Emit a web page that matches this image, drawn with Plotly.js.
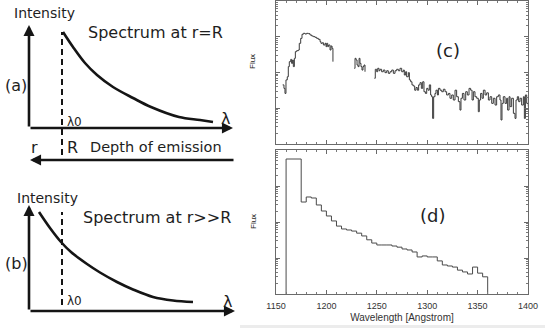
<!DOCTYPE html>
<html><head><meta charset="utf-8">
<script src="https://cdn.plot.ly/plotly-3.0.1.min.js"></script>
<style>html,body{margin:0;padding:0;background:#fff;}#chart{width:545px;height:328px;}</style>
</head><body><div id="chart"></div>
<script>
// ---- schematic panels (normalized wavelength / normalized intensity) ----
const lamA = [0.17,0.22,0.28,0.34,0.42,0.52,0.61,0.75,0.855,0.92];
const intA = [0.96,0.81,0.65,0.53,0.41,0.30,0.21,0.11,0.08,0.06];
const lamB = [0.05,0.105,0.16,0.21,0.29,0.355,0.44,0.52,0.62,0.72,0.82];
const intB = [0.99,0.83,0.69,0.59,0.47,0.385,0.29,0.215,0.14,0.105,0.09];
const lambda0 = 0.165;

// ---- (c) observed spectrum: wavelength [Angstrom], flux (arbitrary units) ----
const lamC = [1156.6,1157.9,1158.9,1159.9,1161.2,1162.2,1163.2,1164.6,1165.5,1166.5,
  1167.2,1168.2,1169.2,1170.5,1172.2,1173.1,1174.5,1175.8,1177.1,1178.8,
  1180.4,1182.1,1183.7,1185.4,1187.0,1188.7,1190.3,1192.0,1193.7,1194.6,
  1196.0,1197.0,1198.6,1199.6,1200.3,1201.3,1202.2,1203.6,1204.6,1205.6,1206.5,
  1216,
  1227.7,1228.4,1229.4,1230.4,1231.4,1232.4,1233.3,1234.3,1235.3,1236.3,1237.3,1238.3,
  1243,
  1247.6,1248.5,1249.9,1250.9,1252.2,1253.2,1254.8,1256.5,1258.1,1259.8,
  1261.4,1263.1,1264.8,1266.4,1268.1,1269.7,1271.4,1273.0,1274.7,1276.3,
  1277.3,1278.6,1279.6,1281.3,1282.3,1283.6,1284.9,1286.2,1287.6,1288.9,
  1290.2,1291.5,1292.9,1294.2,1295.5,1296.8,1298.2,1299.5,1300.8,1302.1,
  1303.4,1304.4,1305.4,1306.4,1307.7,1308.7,1310.1,1311.1,1312.7,1314.4,
  1316.0,1317.7,1319.3,1321.0,1322.6,1324.3,1325.9,1327.6,1329.2,1330.9,
  1332.5,1333.5,1334.9,1336.5,1338.2,1339.8,1341.5,1343.1,1344.5,1345.8,
  1347.4,1349.1,1350.7,1351.7,1353.0,1354.4,1355.7,1357.4,1359.0,1360.7,
  1362.3,1364.0,1365.6,1367.3,1368.9,1370.6,1372.2,1373.2,1374.2,1375.5,
  1377.2,1378.8,1379.8,1381.2,1382.2,1383.8,1385.5,1387.1,1388.1,1389.4,
  1390.7,1392.1,1393.7,1395.4,1396.4,1397.4,1398.7,1400.3];
const fluxC = [45,36,26,62,76,146,201,233,180,224,
  146,249,383,408,426,655,903,1170,1247,1194,
  1247,1220,1120,1050,1005,964,903,847,728,655,
  683,588,655,528,655,528,588,426,551,474,201,
  null,
  131,249,224,162,146,249,180,146,117,146,162,105,
  null,
  69,123,105,131,112,123,105,117,99,112,
  95,105,117,95,112,123,112,131,105,117,
  85,105,76,99,62,55,45,42,32,38,
  32,45,52,36,55,29,26,36,32,45,
  23.5,21,5.2,21,26,32,23.5,36,32,29,
  34,29,23.5,26,19,23.5,17,32,21,15.3,
  8.9,19,26,17,29,23.5,36,32,17,29,
  21,19,8.0,17,26,19,32,23.5,27,17,
  21,13.7,19,12.3,21,23.5,17,4.7,13.7,21,
  13.7,19,8.9,21,11.1,19,7.2,5.2,17,21,
  15.3,19,12.3,21,5.2,23.5,13.7,11.1];

// ---- (d) binned model spectrum: bin left edges [Angstrom], flux ----
const binD = [1160,1160,1175,1180,1185,1190,1195,1200,1205,1210,1215,1220,1225,1230,1235,1240,
  1245,1250,1255,1260,1265,1270,1275,1280,1285,1290,1295,1300,1305,1310,1315,1320,1325,
  1330,1335,1340,1345,1350,1355,1360];
const fluxD = [0.01,5623,359,495,464,297,202,147,107,77,64,60,56,49,41,32,
  26,23,23,23,21.5,20,17.8,16.7,14.7,10.7,11.4,10.7,10.7,8.3,6.4,6.0,5.6,
  4.6,4.1,3.6,5.6,3.8,3.0,0.01];

const xTicks = [1150,1200,1250,1300,1350,1400];

const ink = '#151515';
const fL = 'DejaVu Sans, sans-serif';
const fR = 'Liberation Sans, Arial, sans-serif';

const traces = [
  {x: lamA, y: intA, xaxis: 'x', yaxis: 'y', mode: 'lines', line: {color: ink, width: 2.6, shape: 'spline'}, hoverinfo: 'skip'},
  {x: lamB, y: intB, xaxis: 'x2', yaxis: 'y2', mode: 'lines', line: {color: ink, width: 2.6, shape: 'spline'}, hoverinfo: 'skip'},
  {x: lamC, y: fluxC, xaxis: 'x3', yaxis: 'y3', mode: 'lines', connectgaps: false, line: {color: '#3a3a3a', width: 1, shape: 'hv'}, hoverinfo: 'skip'},
  {x: binD, y: fluxD, xaxis: 'x4', yaxis: 'y4', mode: 'lines', line: {color: '#4a4a4a', width: 1, shape: 'hv'}, hoverinfo: 'skip'}
];

function arrow(xr, yr, x0, y0, x1, y1) {
  return {xref: xr, yref: yr, axref: xr, ayref: yr, x: x1, y: y1, ax: x0, ay: y0,
    text: '', showarrow: true, arrowhead: 2, arrowsize: 0.85, arrowwidth: 2.6, arrowcolor: ink, standoff: 0};
}
function txt(xr, yr, x, y, t, size, font, extra) {
  return Object.assign({xref: xr, yref: yr, x: x, y: y, text: t, showarrow: false,
    xanchor: 'center', yanchor: 'middle', font: {family: font || fL, size: size, color: '#1e1e1e'}}, extra || {});
}

const annotations = [
  // panel (a)
  arrow('x', 'y', 0, 0, 0, 1.03),
  arrow('x', 'y', 0, 0, 1.02, 0),
  arrow('x', 'y', 1.03, -0.32, 0.005, -0.32),
  txt('x', 'y', 0.075, 1.15, 'Intensity', 14),
  txt('x', 'y', 0.63, 0.96, 'Spectrum at r=R', 16),
  txt('x', 'y', -0.065, 0.43, '(a)', 16),
  txt('x', 'y', 0.225, 0.06, 'λ0', 12),
  txt('x', 'y', 0.98, 0.10, 'λ', 16),
  txt('x', 'y', 0.025, -0.19, 'r', 16),
  txt('x', 'y', 0.215, -0.19, 'R', 16),
  txt('x', 'y', 0.635, -0.19, 'Depth of emission', 14.5),
  // panel (b)
  arrow('x2', 'y2', 0, 0, 0, 1.06),
  arrow('x2', 'y2', 0, 0, 1.03, 0),
  txt('x2', 'y2', 0.09, 1.13, 'Intensity', 14),
  txt('x2', 'y2', 0.6375, 0.94, 'Spectrum at r>>R', 16),
  txt('x2', 'y2', -0.065, 0.48, '(b)', 16),
  txt('x2', 'y2', 0.2275, 0.10, 'λ0', 12),
  txt('x2', 'y2', 0.99, 0.10, 'λ', 16),
  // panels (c), (d)
  txt('paper', 'paper', 448/545, 1 - 50/328, '(c)', 18),
  txt('paper', 'paper', 432/545, 1 - 215/328, '(d)', 18),
  txt('paper', 'paper', 253/545, 1 - 62/328, 'Flux', 8, fR, {textangle: -90}),
  txt('paper', 'paper', 253/545, 1 - 222/328, 'Flux', 8, fR, {textangle: -90})
];

const shapes = [
  {type: 'line', xref: 'x', yref: 'y', x0: lambda0, x1: lambda0, y0: -0.27, y1: 0.96,
    line: {color: ink, width: 2, dash: '6px,4px'}},
  {type: 'line', xref: 'x2', yref: 'y2', x0: lambda0, x1: lambda0, y0: 0.06, y1: 0.99,
    line: {color: ink, width: 2, dash: '6px,4px'}},
  {type: 'rect', xref: 'paper', yref: 'paper', x0: 240/545, x1: 1, y0: 0, y1: 3/328,
    fillcolor: '#ececec', line: {width: 0}, layer: 'below'}
];

const hidden = {visible: false, fixedrange: true};
const frameX = {
  range: [1150, 1400], showline: true, linecolor: '#6a6a6a', linewidth: 1, mirror: 'ticks',
  ticks: 'inside', ticklen: 4, tickcolor: '#6a6a6a', tickwidth: 1, tickvals: xTicks,
  minor: {ticks: 'inside', ticklen: 2, dtick: 10, tick0: 1150, tickcolor: '#7a7a7a'},
  showgrid: false, zeroline: false, fixedrange: true
};
const frameY = {
  type: 'log', range: [0, 4], showline: true, linecolor: '#6a6a6a', linewidth: 1, mirror: 'ticks',
  ticks: 'inside', ticklen: 4, tickcolor: '#6a6a6a', tickwidth: 1, dtick: 1, showticklabels: false,
  minor: {ticks: 'inside', ticklen: 2, dtick: 'D1', tickcolor: '#7a7a7a'},
  showgrid: false, zeroline: false, fixedrange: true
};

const layout = {
  width: 545, height: 328, margin: {l: 0, r: 0, t: 0, b: 0},
  paper_bgcolor: '#fff', plot_bgcolor: 'rgba(0,0,0,0)', showlegend: false,
  xaxis: Object.assign({domain: [0, 250/545], range: [-0.145, 1.105]}, hidden),
  yaxis: Object.assign({domain: [1 - 165/328, 1], range: [-0.37, 1.28]}, hidden),
  xaxis2: Object.assign({domain: [0, 250/545], range: [-0.145, 1.105]}, hidden),
  yaxis2: Object.assign({domain: [0, 1 - 165/328], range: [-0.17, 1.46]}, hidden),
  xaxis3: Object.assign({}, frameX, {domain: [276/545, 528/545], anchor: 'y3', showticklabels: false}),
  yaxis3: Object.assign({}, frameY, {domain: [1 - 144/328, 1 - 1/328], anchor: 'x3'}),
  xaxis4: Object.assign({}, frameX, {domain: [276/545, 528/545], anchor: 'y4', showticklabels: true,
    ticklabelstandoff: 3,
    tickfont: {family: fR, size: 9, color: '#333'},
    title: {text: 'Wavelength [Angstrom]', font: {family: fR, size: 10, color: '#333'}, standoff: 4}}),
  yaxis4: Object.assign({}, frameY, {domain: [1 - 294/328, 1 - 150/328], anchor: 'x4'}),
  annotations: annotations,
  shapes: shapes
};

Plotly.newPlot('chart', traces, layout, {staticPlot: true, displayModeBar: false});
</script></body></html>
